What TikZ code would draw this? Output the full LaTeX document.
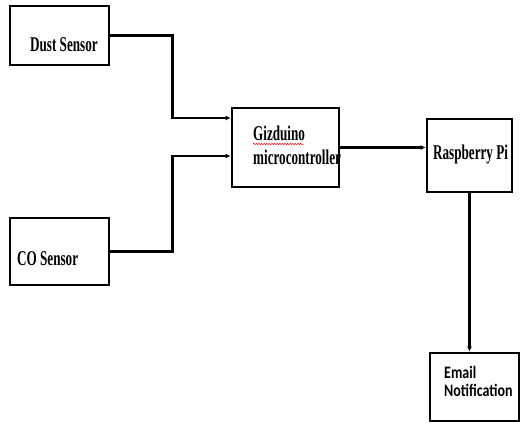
\documentclass[tikz,border=0pt]{standalone}
\usepackage{fontspec}
\usetikzlibrary{arrows.meta,decorations.pathmorphing}
\newfontfamily\tnr{Liberation Serif}[FakeStretch=0.625]
\newfontfamily\carl{Carlito}[FakeStretch=0.8]
\begin{document}
\begin{tikzpicture}[x=1pt,y=-1pt,
  blk/.style={draw=black,line width=2.8pt,fill=white,inner sep=0pt},
  lbl/.style={anchor=base west,inner sep=0pt,font=\tnr\bfseries\fontsize{21}{24}\selectfont},
  slbl/.style={anchor=base west,inner sep=0pt,font=\carl\bfseries\fontsize{17.5}{20}\selectfont},
  conn/.style={draw=black,line width=2.2pt},
  arr/.style={conn,-{Latex[length=5pt,width=5pt]}}]
\useasboundingbox (0,0) rectangle (522,424);
% boxes
\node[blk,minimum width=99pt,minimum height=59pt] (dust) at (59.5,35.5) {};
\node[blk,minimum width=99pt,minimum height=67pt] (co) at (59.5,251.5) {};
\node[blk,minimum width=107pt,minimum height=79pt] (giz) at (285.5,147.5) {};
\node[blk,minimum width=85pt,minimum height=73pt] (rpi) at (469.5,155.5) {};
\node[blk,minimum width=89pt,minimum height=68pt] (email) at (474.5,387) {};
% labels
\node[lbl] (dustt) at (30,51) {Dust Sensor};
\node[lbl] (cot) at (17,265.5) {CO Sensor};
\node[lbl] (gizt1) at (253,140.5) {Gizduino};
\node[lbl] (gizt2) at (253,164.5) {microcontroller};
\node[lbl] (rpit) at (433,159) {Raspberry Pi};
\node[slbl] (emt1) at (444,378.5) {Email};
\node[slbl] (emt2) at (444,396.5) {Notification};
\draw[red,line width=0.5pt,decorate,decoration={snake,amplitude=0.7pt,segment length=2.6pt}]
  (gizt1.base west) ++(0,3.5) -- ++(51,0);
% connectors
\draw[arr] (dust.east) -- ++(62,0) |- ([yshift=29.5pt]giz.west);
\draw[arr] (co.east) -- ++(62,0) |- ([yshift=-8.5pt]giz.west);
\draw[arr] (giz.east) -- (giz.east -| rpi.west);
\draw[arr] (rpi.south) -- (rpi.south |- email.north);
\end{tikzpicture}
\end{document}
